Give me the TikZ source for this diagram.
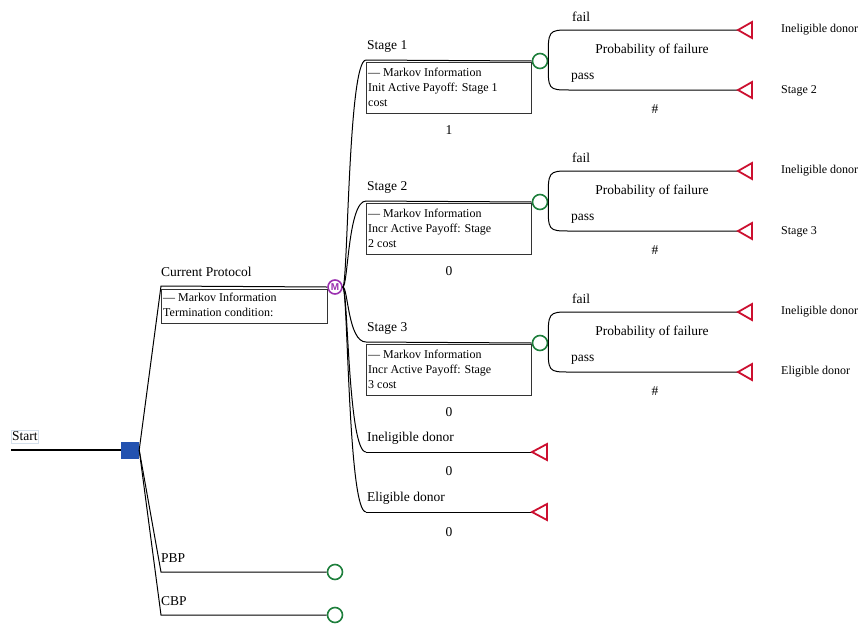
\documentclass[tikz,border=0pt]{standalone}
\usepackage{fontspec}
\setmainfont{Liberation Serif}
\newfontfamily\msans{Liberation Sans}
\usetikzlibrary{calc}
\definecolor{tgreen}{HTML}{1E7F3C}
\definecolor{tred}{HTML}{CC1030}
\definecolor{tpurple}{HTML}{9B30B0}
\definecolor{tblue}{HTML}{2352B0}
\definecolor{tframe}{HTML}{D5E0EC}
\tikzset{
 lbl/.style={font=\fontsize{13.5}{15}\selectfont, inner sep=0pt},
 small/.style={font=\fontsize{12}{15}\selectfont, inner sep=0pt},
 chance/.style={circle, draw=tgreen, line width=1.6pt, fill=white, minimum size=15pt, inner sep=0pt},
 markov/.style={circle, draw=tpurple, line width=1.6pt, fill=white, minimum size=14pt, inner sep=0pt, text=tpurple, font=\msans\bfseries\fontsize{10}{10}\selectfont},
 tri/.style={draw=tred, line width=1.8pt, fill=white, line join=miter},
 br/.style={draw=black, line width=1pt},
 infobox/.style={draw=black!80, line width=1pt},
 infotext/.style={small, anchor=north west, align=left},
}
\begin{document}
\begin{tikzpicture}[x=1pt,y=-1pt]
\useasboundingbox (0,0) rectangle (861,624);

% ---- start ----
\node[lbl, draw=tframe, inner xsep=1pt, inner ysep=2pt, anchor=west] (start) at (11,436.5) {Start};
\coordinate (s0) at (11,450);
\node[fill=tblue, minimum width=18pt, minimum height=17pt, inner sep=0pt] (dec) at (130,450) {};
\draw[line width=2pt] (s0) -- (dec.west);

% ---- first level ----
\coordinate (cpA) at (161,286);
\coordinate (pbA) at (161,572);
\coordinate (cbA) at (161,615);
\node[markov] (M) at (335,287) {M};
\node[chance] (pbC) at (335,572) {};
\node[chance] (cbC) at (335,615) {};
\draw[br] (dec.east) -- (cpA) -- (M.west);
\draw[br] (dec.east) -- (pbA) -- (pbC.west);
\draw[br] (dec.east) -- (cbA) -- (cbC.west);
\node[lbl, anchor=west] (cpL) at (161,272) {Current Protocol};
\node[lbl, anchor=west] (pbL) at (161,558) {PBP};
\node[lbl, anchor=west] (cbL) at (161,601) {CBP};
\draw[infobox] (161,289) rectangle (327,323);
\node[infotext] (cpI) at (163,293) {— Markov Information\\Termination condition:};

% ---- markov branches ----
\foreach \n/\y in {1/60,2/201,3/342,4/452,5/512}{
  \coordinate (mb\n) at (366,\y);
  \draw[br] (M.east) .. controls (348,287) and (348,\y) .. (mb\n);
}
% stages
\foreach \n/\y/\lab/\txt/\val in {
  1/60/Stage 1/{— Markov Information\\Init Active Payoff: Stage 1\\cost}/1,
  2/201/Stage 2/{— Markov Information\\Incr Active Payoff: Stage\\2 cost}/0,
  3/342/Stage 3/{— Markov Information\\Incr Active Payoff: Stage\\3 cost}/0}{
  \node[chance] (c\n) at (540,\y+1) {};
  \draw[br] (mb\n) -- (c\n.west);
  \node[lbl, anchor=west] (sl\n) at (367,\y-13.5) {\lab};
  \draw[infobox] (366,\y+2) rectangle (531,\y+53);
  \node[infotext] (si\n) at (368,\y+7.5) {\txt};
  \node[lbl] (sv\n) at (449,\y+70) {\val};
  % chance branches
  \coordinate (f\n) at (570,\y-30);
  \coordinate (p\n) at (570,\y+30);
  \coordinate (ft\n) at (738,\y-30);
  \coordinate (pt\n) at (738,\y+30);
  \draw[br] (c\n.east) .. controls (548,\y-30) .. (f\n) -- (ft\n);
  \draw[br] (c\n.east) .. controls (548,\y+30) .. (p\n) -- (pt\n);
  \draw[tri] (ft\n) -- ++(14,-8) -- ++(0,16) -- cycle;
  \draw[tri] (pt\n) -- ++(14,-8) -- ++(0,16) -- cycle;
  \node[lbl, anchor=west] (fl\n) at (572,\y-43.5) {fail};
  \node[lbl, anchor=west] (pl\n) at (571,\y+18) {pass};
  \node[lbl] (pr\n) at (652,\y-9.5) {Probability of failure};
  \node[lbl] (hs\n) at (655,\y+49) {\#};
  \node[small, anchor=west] (tf\n) at (781,\y-30) {Ineligible donor};
}
\node[small, anchor=west] (tp1) at (781,91) {Stage 2};
\node[small, anchor=west] (tp2) at (781,232) {Stage 3};
\node[small, anchor=west] (tp3) at (781,372) {Eligible donor};

% terminal markov branches
\coordinate (t4) at (532,452);
\coordinate (t5) at (532,512);
\draw[br] (mb4) -- (t4);
\draw[br] (mb5) -- (t5);
\draw[tri] (t4) -- ++(15,-8) -- ++(0,16) -- cycle;
\draw[tri] (t5) -- ++(15,-8) -- ++(0,16) -- cycle;
\node[lbl, anchor=west] (l4) at (367,438) {Ineligible donor};
\node[lbl, anchor=west] (l5) at (367,498) {Eligible donor};
\node[lbl] (v4) at (449,471) {0};
\node[lbl] (v5) at (449,532) {0};
\end{tikzpicture}
\end{document}
